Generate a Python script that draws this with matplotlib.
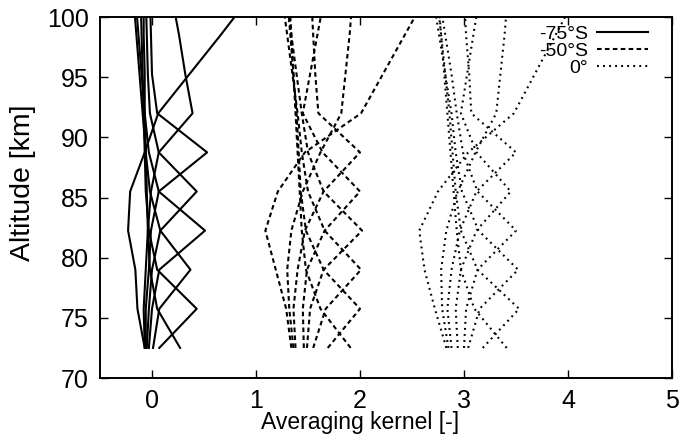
import matplotlib
matplotlib.use('Agg')
import matplotlib.pyplot as plt
from matplotlib import font_manager

# retrieval grid [km]; the last level sits above the plotted range
levels = [72.5, 75.75, 79.0, 82.25, 85.5, 88.75, 92.0, 95.25, 98.5, 101.75]

# averaging kernel rows, one list per retrieval level
ak_75S = [
    [0.27, 0.05, -0.02, -0.04, -0.05, -0.06, -0.07, -0.07, -0.08, -0.08],
    [0.07, 0.43, 0.05, -0.03, -0.06, -0.07, -0.08, -0.09, -0.10, -0.11],
    [0.01, 0.07, 0.37, 0.08, -0.02, -0.06, -0.09, -0.12, -0.15, -0.18],
    [-0.03, 0.00, 0.07, 0.51, 0.065, -0.03, -0.07, -0.10, -0.13, -0.16],
    [-0.05, -0.03, 0.00, 0.08, 0.43, 0.065, -0.02, -0.04, -0.05, -0.06],
    [-0.06, -0.06, -0.03, -0.01, 0.065, 0.53, 0.05, 0.00, -0.01, -0.02],
    [-0.07, -0.08, -0.06, -0.04, -0.01, 0.065, 0.39, 0.32, 0.26, 0.19],
    [-0.07, -0.14, -0.16, -0.23, -0.21, -0.07, 0.06, 0.36, 0.66, 0.95],
]
ak_50S = [
    [0.41, 0.12, -0.02, -0.06, -0.08, -0.10, -0.12, -0.14, -0.16, -0.18],
    [0.19, 0.50, 0.15, -0.02, -0.07, -0.09, -0.11, -0.14, -0.17, -0.20],
    [0.05, 0.17, 0.51, 0.16, 0.00, -0.06, -0.10, -0.15, -0.20, -0.25],
    [-0.01, 0.02, 0.15, 0.52, 0.15, 0.00, -0.06, -0.11, -0.16, -0.21],
    [-0.04, -0.05, -0.01, 0.16, 0.50, 0.14, -0.05, 0.02, 0.09, 0.16],
    [-0.12, -0.14, -0.10, -0.03, 0.15, 0.50, 0.10, 0.07, 0.05, 0.03],
    [-0.14, -0.18, -0.20, -0.16, -0.05, 0.12, 0.32, 0.36, 0.40, 0.43],
    [-0.16, -0.21, -0.31, -0.41, -0.29, -0.03, 0.51, 0.72, 0.93, 1.14],
]
ak_0 = [
    [0.41, 0.10, -0.03, -0.07, -0.10, -0.13, -0.16, -0.19, -0.22, -0.25],
    [0.18, 0.53, 0.13, -0.03, -0.08, -0.11, -0.14, -0.18, -0.22, -0.26],
    [0.04, 0.15, 0.52, 0.14, -0.02, -0.08, -0.12, -0.18, -0.24, -0.30],
    [0.00, 0.02, 0.13, 0.50, 0.13, -0.01, -0.07, -0.12, -0.18, -0.24],
    [-0.06, -0.08, -0.03, 0.12, 0.45, 0.12, -0.03, 0.03, 0.09, 0.15],
    [-0.12, -0.16, -0.12, -0.04, 0.12, 0.50, 0.07, 0.05, 0.02, 0.00],
    [-0.15, -0.21, -0.22, -0.17, -0.06, 0.11, 0.31, 0.35, 0.39, 0.42],
    [-0.17, -0.28, -0.38, -0.43, -0.25, 0.04, 0.48, 0.68, 0.88, 1.08],
]

latitudes = ['-75°S', '-50°S', '0°']
offsets = [0.0, 1.5, 3.0]
kernels = [ak_75S, ak_50S, ak_0]
styles = [(None, '-'), ((2.2, 1.6), '--'), ((0.9, 2.0), ':')]

names = {f.name for f in font_manager.fontManager.ttflist}
narrow = 'Liberation Sans Narrow' if 'Liberation Sans Narrow' in names else 'Liberation Sans'
plt.rcParams['font.family'] = [narrow, 'DejaVu Sans']


def plotKernels(ax, rows, offset, dashes, ls, label):
    for i, row in enumerate(rows):
        x = [v + offset for v in row]
        line, = ax.plot(x, levels, color='black', lw=1.5, ls=ls,
                        label=label if i == 0 else None)
        if dashes is not None:
            line.set_dashes(dashes)


fig = plt.figure(figsize=(6.81, 4.37), dpi=100)
ax = fig.add_axes([100 / 681, 59 / 437, 572 / 681, 361 / 437])

for rows, off, (dashes, ls), lab in zip(kernels, offsets, styles, latitudes):
    plotKernels(ax, rows, off, dashes, ls, lab)

ax.set_xlim(-0.5, 5)
ax.set_ylim(70, 100)
ax.set_xticks([0, 1, 2, 3, 4, 5])
ax.set_yticks([70, 75, 80, 85, 90, 95, 100])
ax.tick_params(direction='in', length=6, width=1, labelsize=18,
               top=True, right=True, pad=8)
for s in ax.spines.values():
    s.set_linewidth(1.4)

ax.set_xlabel('Averaging kernel [-]', fontsize=16.5)
ax.set_ylabel('Altitude [km]', fontsize=20.5, family='Liberation Sans')
ax.xaxis.set_label_coords(0.455, -0.092)
ax.yaxis.set_label_coords(-0.112, 0.54)

leg = ax.legend(loc='upper right', bbox_to_anchor=(0.958, 0.977),
                frameon=False, markerfirst=False, borderpad=0,
                borderaxespad=0,
                prop={'family': 'Liberation Sans', 'size': 14},
                handlelength=2.6, handletextpad=0.5, labelspacing=-0.04)

fig.savefig('out.png', dpi=100)
